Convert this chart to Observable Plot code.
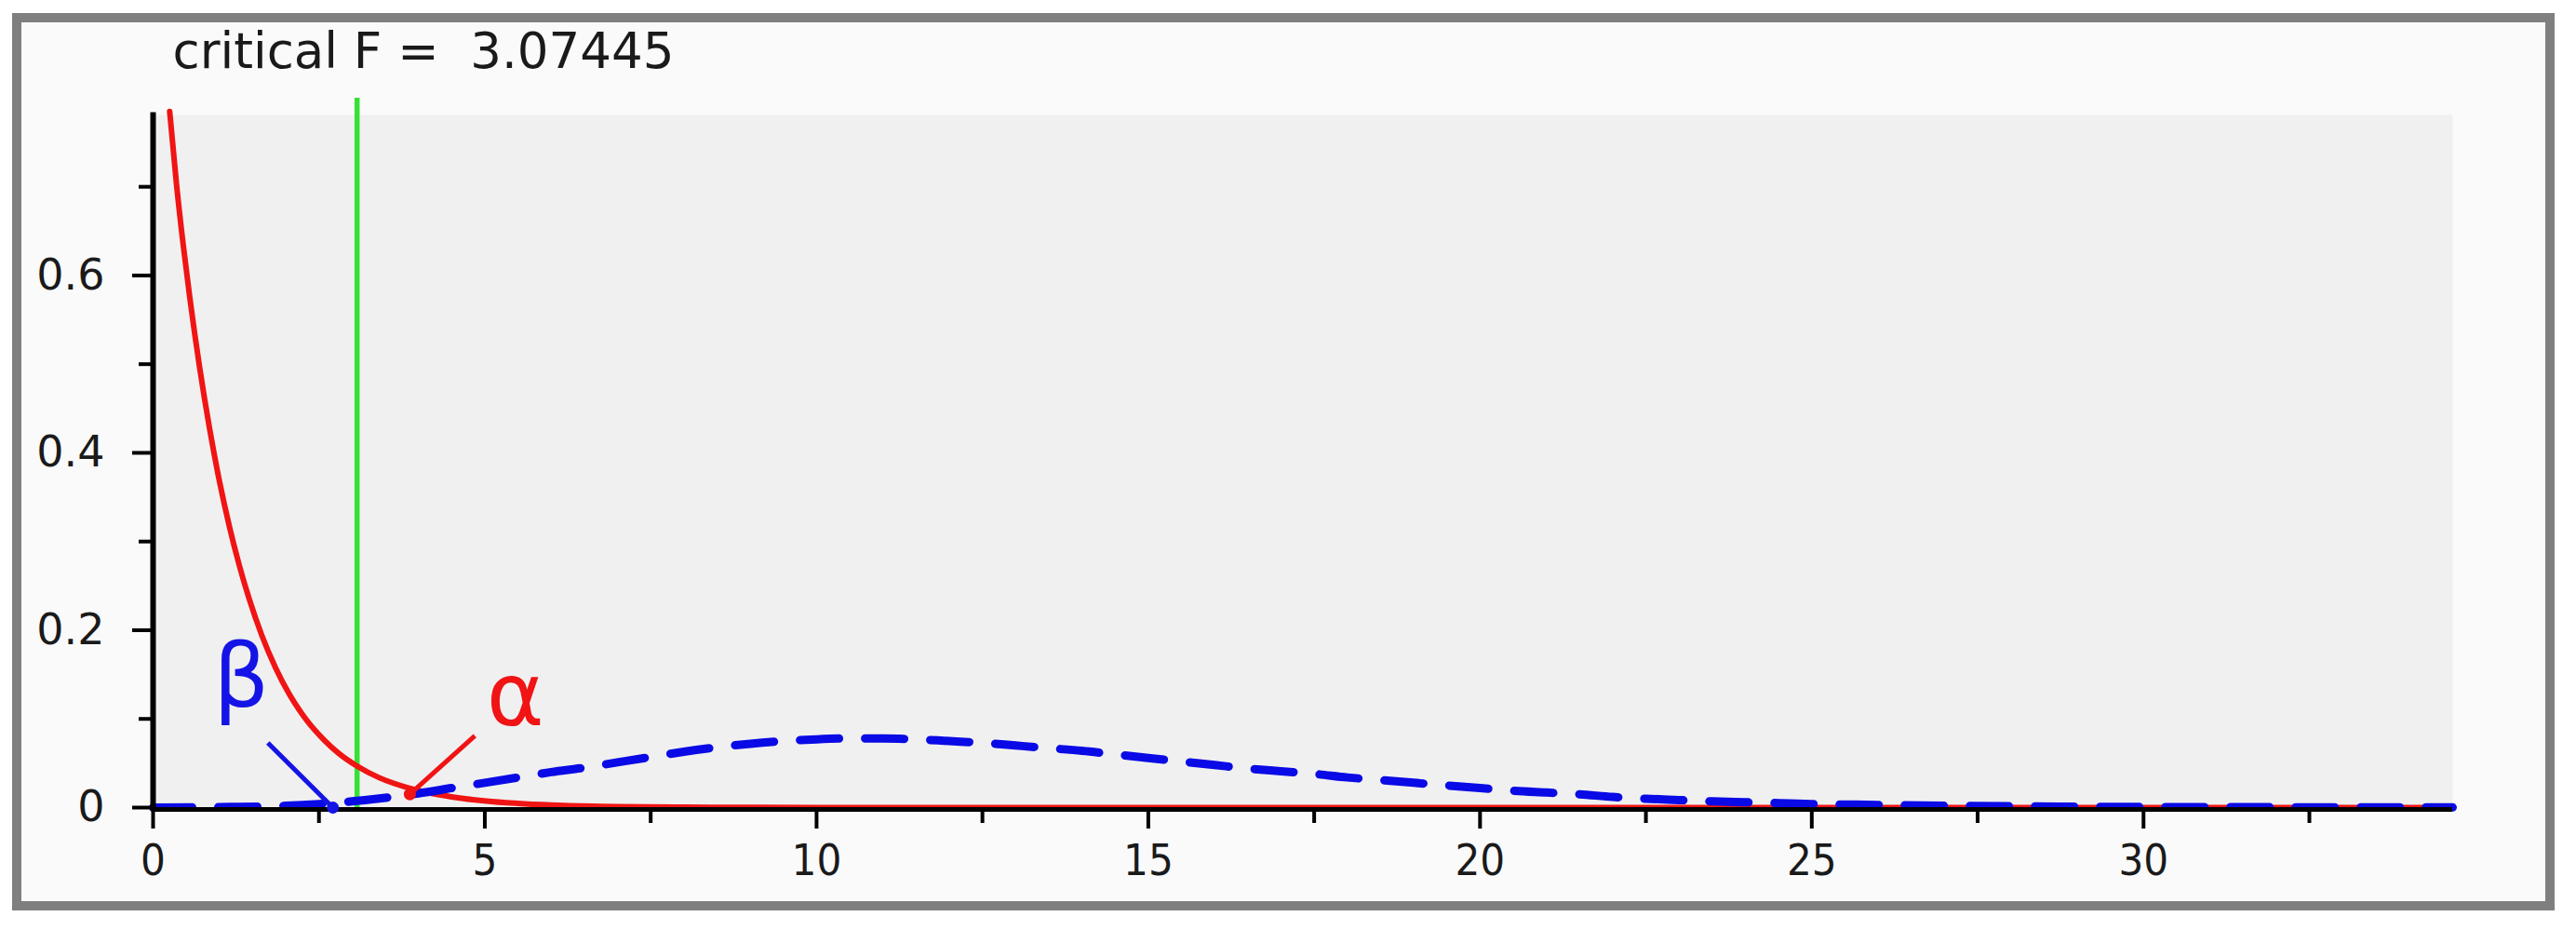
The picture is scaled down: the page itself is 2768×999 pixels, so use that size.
<!DOCTYPE html>
<html>
<head>
<meta charset="utf-8">
<script src="https://cdn.jsdelivr.net/npm/d3@7"></script>
<script src="https://cdn.jsdelivr.net/npm/@observablehq/plot@0.6"></script>
<style>
  html, body { margin: 0; padding: 0; background: #ffffff; }
  #wrap { position: relative; width: 2768px; height: 999px; overflow: hidden; }
  #box { position: absolute; left: 13px; top: 14px; width: 2732px; height: 964px; box-sizing: border-box;
         border: 10px solid #7f7f7f; background: #fafafa; }
  #chart { position: absolute; left: 0; top: 0; }
</style>
</head>
<body>
<div id="wrap"><div id="box"></div><div id="chart"></div></div>
<script>
// ---- data ----
const criticalF = 3.07445;
const titleText = "critical F =\u00a0 3.07445";

const xTicks = [0, 5, 10, 15, 20, 25, 30];
const xMinorTicks = [2.5, 7.5, 12.5, 17.5, 22.5, 27.5, 32.5];
const yTicks = [0, 0.2, 0.4, 0.6];
const yTickLabels = ["0", "0.2", "0.4", "0.6"];
const yMinorTicks = [0.1, 0.3, 0.5, 0.7];

// null distribution (red, solid)
const nullX = [0.25, 0.35, 0.45, 0.55, 0.7, 0.85, 1.0, 1.15, 1.3, 1.45, 1.64, 1.85, 2.06, 2.3, 2.58, 2.8, 3.07, 3.4, 3.86, 4.2, 4.65, 5.1, 5.6, 6.2, 7, 8, 9, 10, 12, 15, 20, 25, 30, 34.66];
const nullY = [0.785, 0.705, 0.637, 0.577, 0.497, 0.428, 0.368, 0.317, 0.273, 0.235, 0.194, 0.157, 0.127, 0.100, 0.076, 0.061, 0.047, 0.034, 0.022, 0.016, 0.0105, 0.0068, 0.0042, 0.0024, 0.0011, 0.0004, 0.00015, 0.00005, 0, 0, 0, 0, 0, 0];

// alternative distribution (blue, dashed)
const altX = [0, 1, 2, 2.5, 3, 3.5, 4, 4.5, 5, 5.5, 6, 6.5, 7, 7.5, 8, 8.5, 9, 9.5, 10, 10.5, 11, 11.5, 12, 12.5, 13, 13.5, 14, 14.5, 15, 15.5, 16, 16.5, 17, 17.5, 18, 18.5, 19, 19.5, 20, 20.5, 21, 21.5, 22, 22.5, 23, 23.5, 24, 24.5, 25, 26, 27, 28, 29, 30, 32, 34.66];
const altY = [0, 0.0005, 0.002, 0.004, 0.007, 0.011, 0.016, 0.022, 0.028, 0.034, 0.040, 0.045, 0.051, 0.057, 0.063, 0.068, 0.072, 0.075, 0.077, 0.078, 0.078, 0.077, 0.075, 0.073, 0.070, 0.067, 0.064, 0.060, 0.056, 0.052, 0.048, 0.044, 0.041, 0.038, 0.034, 0.031, 0.028, 0.025, 0.022, 0.019, 0.017, 0.015, 0.012, 0.010, 0.0085, 0.007, 0.006, 0.005, 0.004, 0.003, 0.002, 0.0015, 0.001, 0.0007, 0.0004, 0.0002];

// annotations (alpha / beta) in data units
const annLabels = ["β", "α"];
const annX = [1.33, 5.46];
const annY = [0.146, 0.124];
const annFromX = [1.73, 4.85];
const annFromY = [0.073, 0.081];
const annToX = [2.71, 3.87];
const annToY = [0.0, 0.015];
const annColors = ["#1414e6", "#f01414"];

const RED = "#f01414", BLUE = "#0a0ae6", GREEN = "#36e036";

const nullData = nullX.map((x, i) => ({x, y: nullY[i]}));
const altData = altX.map((x, i) => ({x, y: altY[i]}));
const ann = annLabels.map((t, i) => ({t, x: annX[i], y: annY[i], x1: annFromX[i], y1: annFromY[i], x2: annToX[i], y2: annToY[i], c: annColors[i]}));

const chart = Plot.plot({
  width: 2768,
  height: 999,
  marginLeft: 164,
  marginRight: 133,
  marginTop: 123,
  marginBottom: 132,
  style: {background: "transparent", overflow: "visible", fontFamily: "DejaVu Sans"},
  x: {domain: [0, 34.66]},
  y: {domain: [0, 0.781]},
  marks: [
    Plot.frame({fill: "#f0f0f0", stroke: null}),
    Plot.ruleX([criticalF], {y1: 0, y2: 0.80, stroke: GREEN, strokeWidth: 5.5}),
    Plot.line(nullData, {x: "x", y: "y", stroke: RED, strokeWidth: 6, curve: "monotone-x"}),
    Plot.line(altData, {x: "x", y: "y", stroke: BLUE, strokeWidth: 9, strokeDasharray: "42,28", curve: "monotone-x"}),
    Plot.ruleY([0], {stroke: "#000", strokeWidth: 5, dy: 2}),
    Plot.frame({anchor: "left", stroke: "#000", strokeWidth: 6}),
    Plot.axisX({ticks: xTicks, tickSize: 23, tickPadding: 16, strokeWidth: 4, fontSize: 47,
      fontFamily: "DejaVu Sans Condensed, Liberation Sans Narrow, DejaVu Sans", fill: "#1a1a1a",
      tickFormat: d => String(d), label: null}),
    Plot.axisX({ticks: xMinorTicks, tickSize: 17, strokeWidth: 4, text: null, label: null}),
    Plot.axisY({ticks: yTicks, tickSize: 22, tickPadding: 30, strokeWidth: 4, fontSize: 46,
      fontFamily: "DejaVu Sans", fill: "#1a1a1a",
      tickFormat: d => yTickLabels[yTicks.indexOf(d)], label: null}),
    Plot.axisY({ticks: yMinorTicks, tickSize: 15, strokeWidth: 4, text: null, label: null}),
    Plot.link(ann, {x1: "x1", y1: "y1", x2: "x2", y2: "y2", stroke: "c", strokeWidth: 5}),
    Plot.dot(ann, {x: "x2", y: "y2", r: 6.5, fill: "c", stroke: null}),
    Plot.text(ann, {x: "x", y: "y", text: "t", fill: "c", fontSize: 94, fontFamily: "DejaVu Sans", textAnchor: "middle", lineAnchor: "middle"}),
    Plot.text([titleText], {frameAnchor: "top-left", text: d => d, dx: 21, dy: -67, fontSize: 53,
      fontFamily: "DejaVu Sans", fill: "#1a1a1a", textAnchor: "start", lineAnchor: "middle"})
  ]
});
document.getElementById("chart").appendChild(chart);
</script>
</body>
</html>
